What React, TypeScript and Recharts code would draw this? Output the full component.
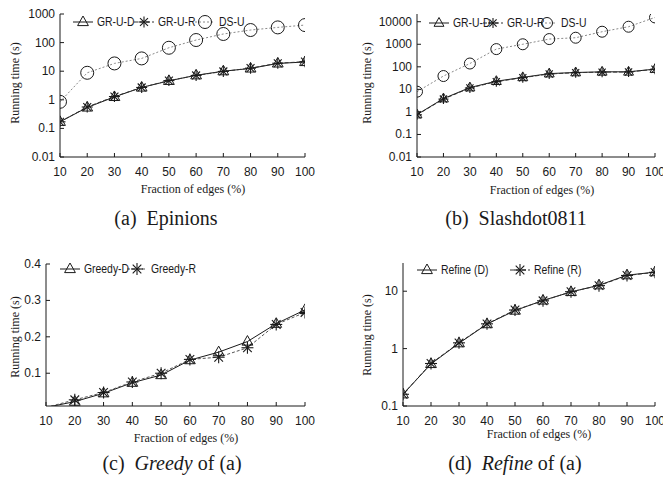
import React from 'react';
import { LineChart, Line, XAxis, YAxis, Legend } from 'recharts';

const fractions = [10, 20, 30, 40, 50, 60, 70, 80, 90, 100];

const epinionsGRUD = [0.17, 0.54, 1.26, 2.7, 4.6, 7.2, 10, 12.5, 18.7, 21];
const epinionsGRUR = [0.17, 0.56, 1.3, 2.7, 4.7, 7.1, 9.8, 12.8, 19, 21.5];
const epinionsDSU = [0.85, 8.8, 18.7, 28, 66, 123, 200, 275, 340, 410];

const slashdotGRUD = [0.76, 3.9, 12, 23, 34, 50, 56, 60, 60, 79];
const slashdotGRUR = [0.74, 3.7, 11.5, 22, 33, 48, 55, 58, 59, 78];
const slashdotDSU = [7.9, 39, 140, 610, 1000, 1700, 1950, 3600, 6000, 15500];

const greedyD = [0.006, 0.022, 0.045, 0.074, 0.095, 0.136, 0.158, 0.187, 0.236, 0.274];
const greedyR = [0.006, 0.027, 0.047, 0.076, 0.1, 0.138, 0.144, 0.17, 0.234, 0.267];

const refineD = [0.16, 0.54, 1.24, 2.67, 4.6, 6.9, 9.7, 12.7, 19, 21.5];
const refineR = [0.16, 0.55, 1.26, 2.7, 4.7, 6.8, 9.8, 12.5, 18.8, 21.3];

const xTicks = [10, 20, 30, 40, 50, 60, 70, 80, 90, 100];
const yTicksA = [0.01, 0.1, 1, 10, 100, 1000];
const yTicksB = [0.01, 0.1, 1, 10, 100, 1000, 10000];
const yTicksC = [0.1, 0.2, 0.3, 0.4];
const yTicksD = [0.1, 1, 10];

const SANS = "'Liberation Sans', Arial, sans-serif";
const SERIF = "'Liberation Serif', 'Times New Roman', serif";
const INK = '#1a1a1a';
const TICK_FS = 12;

type Marker = 'tri' | 'star' | 'circle';

function drawMarker(kind: Marker, cx: number, cy: number, size: number, key?: any) {
  if (kind === 'tri') {
    const s = size;
    return (
      <path
        key={key}
        d={`M${cx},${cy - s} L${cx + s * 0.9},${cy + s * 0.6} L${cx - s * 0.9},${cy + s * 0.6} Z`}
        fill="none"
        stroke={INK}
        strokeWidth={1}
      />
    );
  }
  if (kind === 'star') {
    const r = size;
    const d = r * 0.72;
    return (
      <g key={key} stroke={INK} strokeWidth={1.1}>
        <line x1={cx - r} y1={cy} x2={cx + r} y2={cy} />
        <line x1={cx} y1={cy - r} x2={cx} y2={cy + r} />
        <line x1={cx - d} y1={cy - d} x2={cx + d} y2={cy + d} />
        <line x1={cx - d} y1={cy + d} x2={cx + d} y2={cy - d} />
      </g>
    );
  }
  return <circle key={key} cx={cx} cy={cy} r={size} fill="none" stroke={INK} strokeWidth={1} />;
}

type Series = {
  key: string;
  name: string;
  values: number[];
  marker: Marker;
  size: number;
  stroke: string;
  dash?: string;
};

const BottomTick = (p: any) => (
  <g>
    <line x1={p.x} y1={p.y} x2={p.x} y2={p.y - 4} stroke={INK} />
    <text x={p.x} y={p.y + 15} textAnchor="middle" dominantBaseline="central" fontSize={TICK_FS} fontFamily={SANS} fill={INK}>
      {p.payload.value}
    </text>
  </g>
);
const TopTick = (p: any) => <line x1={p.x} y1={p.y} x2={p.x} y2={p.y + 4} stroke={INK} />;
const LeftTick = (p: any) => (
  <g>
    <line x1={p.x} y1={p.y} x2={p.x + 4} y2={p.y} stroke={INK} />
    <text x={p.x - 5} y={p.y} textAnchor="end" dominantBaseline="central" fontSize={TICK_FS} fontFamily={SANS} fill={INK}>
      {String(p.payload.value)}
    </text>
  </g>
);
const RightTick = (p: any) => <line x1={p.x} y1={p.y} x2={p.x - 4} y2={p.y} stroke={INK} />;

type PanelProps = {
  box: { left: number; top: number; width: number; height: number };
  plot: { left: number; top: number; right: number; bottom: number };
  series: Series[];
  yScale: 'log' | 'linear';
  yDomain: [number, number];
  yTicks: number[];
  legend: { left: number; y: number; itemW: number };
  yLabel: { x: number; y: number };
  xTitle: { x: number; y: number };
  caption: { x: number; y: number; content: React.ReactNode };
};

function Panel(props: PanelProps) {
  const { box, plot, series, yScale, yDomain, yTicks, legend } = props;
  const rows = fractions.map((f, i) => {
    const r: any = { x: f };
    series.forEach((s) => {
      r[s.key] = s.values[i];
    });
    return r;
  });
  const yAxisW = plot.left - box.left;
  const xAxisH = 30;
  const margin = {
    top: plot.top - box.top,
    right: box.left + box.width - plot.right,
    bottom: box.top + box.height - plot.bottom - xAxisH,
    left: 0,
  };

  const legendContent = (lp: any) => {
    const payload = lp.payload || [];
    const ordered = series
      .map((s) => ({ s, entry: payload.find((e: any) => e.dataKey === s.key) }))
      .filter((o) => o.entry);
    return (
      <div style={{ display: 'flex', fontFamily: SANS, fontSize: 13, color: INK, lineHeight: '16px' }}>
        {ordered.map(({ s, entry }) => (
          <div key={s.key} style={{ width: legend.itemW, display: 'flex', alignItems: 'center', whiteSpace: 'nowrap', flex: 'none' }}>
            <svg width={22} height={16} style={{ overflow: 'visible', flex: 'none' }}>
              <line x1={1} y1={8} x2={21} y2={8} stroke={s.stroke} strokeDasharray={s.dash} />
              {drawMarker(s.marker, 11, 8, s.size)}
            </svg>
            <span
              style={{
                marginLeft: 3,
                display: 'inline-block',
                transform: 'scaleX(0.8)',
                transformOrigin: 'left center',
              }}
            >
              {entry.value}
            </span>
          </div>
        ))}
      </div>
    );
  };

  return (
    <>
      <div style={{ position: 'absolute', left: box.left, top: box.top }}>
        <LineChart width={box.width} height={box.height} data={rows} margin={margin}>
          <XAxis
            dataKey="x"
            type="number"
            domain={[10, 100]}
            ticks={xTicks}
            interval={0}
            height={xAxisH}
            tickSize={0}
            tickMargin={0}
            tickLine={false}
            axisLine={{ stroke: INK }}
            tick={BottomTick}
            allowDataOverflow
          />
          <XAxis
            xAxisId="top"
            orientation="top"
            dataKey="x"
            type="number"
            domain={[10, 100]}
            ticks={xTicks}
            interval={0}
            height={0}
            tickSize={0}
            tickMargin={0}
            tickLine={false}
            axisLine={{ stroke: INK }}
            tick={TopTick}
            allowDataOverflow
          />
          <YAxis
            type="number"
            scale={yScale}
            domain={yDomain}
            ticks={yTicks}
            interval={0}
            width={yAxisW}
            tickSize={0}
            tickMargin={0}
            tickLine={false}
            axisLine={{ stroke: INK }}
            tick={LeftTick}
            allowDataOverflow
          />
          <YAxis
            yAxisId="right"
            orientation="right"
            type="number"
            scale={yScale}
            domain={yDomain}
            ticks={yTicks}
            interval={0}
            width={0}
            tickSize={0}
            tickMargin={0}
            tickLine={false}
            axisLine={{ stroke: INK }}
            tick={RightTick}
            allowDataOverflow
          />
          <Legend
            verticalAlign="middle"
            align="center"
            layout="horizontal"
            wrapperStyle={{ top: legend.y - box.top - 8, left: legend.left - box.left, width: 'auto', height: 16 }}
            content={legendContent}
          />
          {series.map((s) => (
            <Line
              key={s.key}
              dataKey={s.key}
              name={s.name}
              type="linear"
              stroke={s.stroke}
              strokeWidth={1}
              strokeDasharray={s.dash}
              isAnimationActive={false}
              activeDot={false}
              dot={(dp: any) => {
                if (dp.value < yDomain[0]) return <g key={dp.index} />;
                return drawMarker(s.marker, dp.cx, dp.cy, s.size, dp.index);
              }}
            />
          ))}
        </LineChart>
      </div>
      <div
        style={{
          position: 'absolute',
          left: props.yLabel.x - 60,
          top: props.yLabel.y - 8,
          width: 120,
          height: 16,
          lineHeight: '16px',
          textAlign: 'center',
          transform: 'rotate(-90deg)',
          fontFamily: SERIF,
          fontSize: 12,
          color: INK,
          whiteSpace: 'nowrap',
        }}
      >
        Running time (s)
      </div>
      <div
        style={{
          position: 'absolute',
          left: props.xTitle.x - 80,
          top: props.xTitle.y - 8,
          width: 160,
          height: 16,
          lineHeight: '16px',
          textAlign: 'center',
          fontFamily: SERIF,
          fontSize: 12,
          color: INK,
          whiteSpace: 'nowrap',
        }}
      >
        Fraction of edges (%)
      </div>
      <div
        style={{
          position: 'absolute',
          left: props.caption.x - 120,
          top: props.caption.y - 12,
          width: 240,
          height: 24,
          lineHeight: '24px',
          textAlign: 'center',
          fontFamily: SERIF,
          fontSize: 20,
          color: INK,
          whiteSpace: 'pre',
        }}
      >
        {props.caption.content}
      </div>
    </>
  );
}

export default function App() {
  const seriesA: Series[] = [
    { key: 'grud', name: 'GR-U-D', values: epinionsGRUD, marker: 'tri', size: 6, stroke: INK },
    { key: 'grur', name: 'GR-U-R', values: epinionsGRUR, marker: 'star', size: 5.5, stroke: '#333', dash: '4 2' },
    { key: 'dsu', name: 'DS-U', values: epinionsDSU, marker: 'circle', size: 6.5, stroke: '#8a8a8a', dash: '2 2' },
  ];
  const seriesB: Series[] = [
    { key: 'grud', name: 'GR-U-D', values: slashdotGRUD, marker: 'tri', size: 5.5, stroke: INK },
    { key: 'grur', name: 'GR-U-R', values: slashdotGRUR, marker: 'star', size: 5, stroke: '#333', dash: '4 2' },
    { key: 'dsu', name: 'DS-U', values: slashdotDSU, marker: 'circle', size: 5.5, stroke: '#8a8a8a', dash: '2 2' },
  ];
  const seriesC: Series[] = [
    { key: 'gd', name: 'Greedy-D', values: greedyD, marker: 'tri', size: 6, stroke: INK },
    { key: 'gr', name: 'Greedy-R', values: greedyR, marker: 'star', size: 6, stroke: '#555', dash: '3 2' },
  ];
  const seriesD: Series[] = [
    { key: 'rd', name: 'Refine (D)', values: refineD, marker: 'tri', size: 6, stroke: INK },
    { key: 'rr', name: 'Refine (R)', values: refineR, marker: 'star', size: 6, stroke: '#333', dash: '4 2' },
  ];

  return (
    <div style={{ position: 'absolute', left: 0, top: 0, width: 663, height: 478, background: '#fff', overflow: 'hidden' }}>
      <Panel
        box={{ left: 0, top: 0, width: 330, height: 240 }}
        plot={{ left: 60, top: 14, right: 305, bottom: 157 }}
        series={seriesA}
        yScale="log"
        yDomain={[0.01, 1000]}
        yTicks={yTicksA}
        legend={{ left: 72, y: 22, itemW: 61 }}
        yLabel={{ x: 15, y: 83 }}
        xTitle={{ x: 193, y: 189 }}
        caption={{ x: 166, y: 218, content: '(a)  Epinions' }}
      />
      <Panel
        box={{ left: 330, top: 0, width: 333, height: 240 }}
        plot={{ left: 417, top: 14, right: 655, bottom: 157 }}
        series={seriesB}
        yScale="log"
        yDomain={[0.01, 22000]}
        yTicks={yTicksB}
        legend={{ left: 428, y: 23, itemW: 54 }}
        yLabel={{ x: 367, y: 83 }}
        xTitle={{ x: 542, y: 190 }}
        caption={{ x: 516, y: 218, content: '(b)  Slashdot0811' }}
      />
      <Panel
        box={{ left: 0, top: 240, width: 330, height: 238 }}
        plot={{ left: 46, top: 264, right: 305, bottom: 406 }}
        series={seriesC}
        yScale="linear"
        yDomain={[0.01, 0.4]}
        yTicks={yTicksC}
        legend={{ left: 59, y: 269, itemW: 67 }}
        yLabel={{ x: 15, y: 337 }}
        xTitle={{ x: 186, y: 438 }}
        caption={{
          x: 172,
          y: 463,
          content: (
            <span>
              (c)  <i>Greedy</i> of (a)
            </span>
          ),
        }}
      />
      <Panel
        box={{ left: 330, top: 240, width: 333, height: 238 }}
        plot={{ left: 403, top: 263, right: 655, bottom: 406 }}
        series={seriesD}
        yScale="log"
        yDomain={[0.1, 31]}
        yTicks={yTicksD}
        legend={{ left: 416, y: 270, itemW: 93 }}
        yLabel={{ x: 367, y: 335 }}
        xTitle={{ x: 539, y: 434 }}
        caption={{
          x: 515,
          y: 463,
          content: (
            <span>
              (d)  <i>Refine</i> of (a)
            </span>
          ),
        }}
      />
    </div>
  );
}
